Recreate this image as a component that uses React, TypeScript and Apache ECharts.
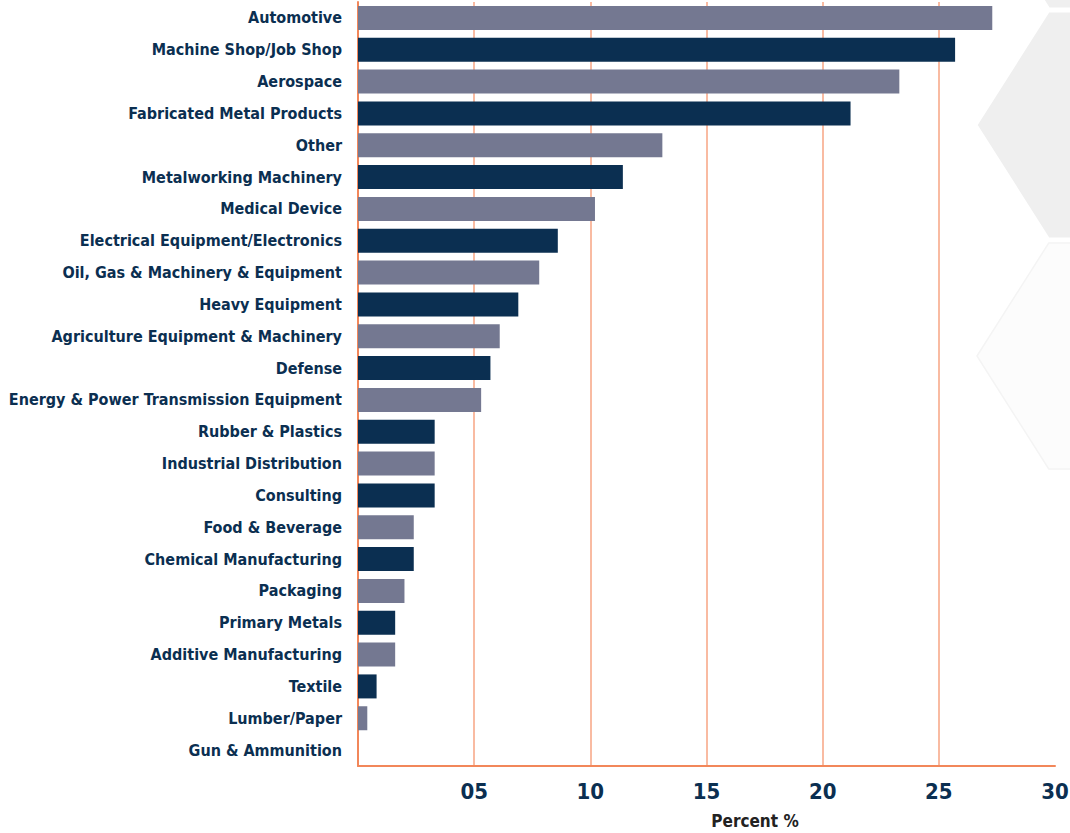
import React, { useEffect, useRef } from "react";
import * as echarts from "echarts";

const categories = [
  "Automotive",
  "Machine Shop/Job Shop",
  "Aerospace",
  "Fabricated Metal Products",
  "Other",
  "Metalworking Machinery",
  "Medical Device",
  "Electrical Equipment/Electronics",
  "Oil, Gas & Machinery & Equipment",
  "Heavy Equipment",
  "Agriculture Equipment & Machinery",
  "Defense",
  "Energy & Power Transmission Equipment",
  "Rubber & Plastics",
  "Industrial Distribution",
  "Consulting",
  "Food & Beverage",
  "Chemical Manufacturing",
  "Packaging",
  "Primary Metals",
  "Additive Manufacturing",
  "Textile",
  "Lumber/Paper",
  "Gun & Ammunition",
];

const values = [
  27.3, 25.7, 23.3, 21.2, 13.1, 11.4, 10.2, 8.6, 7.8, 6.9, 6.1, 5.7, 5.3, 3.3,
  3.3, 3.3, 2.4, 2.4, 2.0, 1.6, 1.6, 0.8, 0.4, 0,
];

const xTicks = [0, 5, 10, 15, 20, 25, 30];
const xTickLabels = ["", "05", "10", "15", "20", "25", "30"];
const xAxisTitle = "Percent %";

const GRAY = "#747891";
const NAVY = "#0b2f51";
const ORANGE = "#f2875a";
const FONT = "'DejaVu Sans Condensed', 'Liberation Sans Narrow', sans-serif";

export default function App() {
  const ref = useRef<HTMLDivElement>(null);

  useEffect(() => {
    if (!ref.current) return;
    const chart = echarts.init(ref.current, undefined, { renderer: "svg" });

    const hex = (lx: number, cy: number, h: number) => {
      const half = h / 2;
      const dx = (half / Math.sqrt(3)) * 1.1;
      const w = h * 1.15;
      return [
        [lx, cy],
        [lx + dx, cy - half],
        [lx + dx + w, cy - half],
        [lx + 2 * dx + w, cy],
        [lx + dx + w, cy + half],
        [lx + dx, cy + half],
      ];
    };

    chart.setOption({
      animation: false,
      backgroundColor: "#ffffff",
      graphic: [
        {
          type: "polygon",
          z: -10,
          silent: true,
          shape: { points: hex(976, 125, 228) },
          style: { fill: "#efefef", stroke: "#ffffff", lineWidth: 3 },
        },
        {
          type: "polygon",
          z: -10,
          silent: true,
          shape: { points: hex(977, 356, 226) },
          style: { fill: "#fcfcfc", stroke: "#f4f4f4", lineWidth: 1.5 },
        },
        {
          type: "polygon",
          z: -10,
          silent: true,
          shape: { points: hex(977, -104, 226) },
          style: { fill: "#efefef", stroke: "#ffffff", lineWidth: 3 },
        },
        {
          type: "text",
          x: 755,
          y: 821,
          style: {
            text: xAxisTitle,
            fill: "#222222",
            font: `bold 17px ${FONT}`,
            align: "center",
            verticalAlign: "middle",
          },
        },
      ],
      grid: {
        left: 358,
        right: 15,
        top: 2,
        bottom: 67,
        containLabel: false,
        outerBoundsMode: "none",
      },
      xAxis: {
        type: "value",
        min: xTicks[0],
        max: xTicks[xTicks.length - 1],
        interval: 5,
        axisLine: { show: true, lineStyle: { color: ORANGE, width: 2 } },
        axisTick: { show: false },
        splitLine: {
          show: true,
          showMinLine: false,
          showMaxLine: false,
          lineStyle: { color: "#f7a583", width: 1.5 },
        },
        axisLabel: {
          margin: 14,
          color: NAVY,
          fontFamily: FONT,
          fontWeight: "bold",
          fontSize: 22,
          formatter: (v: number) => {
            const i = xTicks.indexOf(v);
            return i >= 0 ? xTickLabels[i] : "";
          },
        },
      },
      yAxis: {
        type: "category",
        inverse: true,
        data: categories,
        axisLine: { show: true, lineStyle: { color: ORANGE, width: 2 } },
        axisTick: { show: false },
        axisLabel: {
          margin: 16,
          color: NAVY,
          fontFamily: FONT,
          fontWeight: "bold",
          fontSize: 16,
        },
      },
      series: [
        {
          type: "bar",
          data: values,
          barWidth: 24,
          itemStyle: {
            color: (p: any) => (p.dataIndex % 2 === 0 ? GRAY : NAVY),
          },
        },
      ],
    });

    return () => chart.dispose();
  }, []);

  return (
    <div
      ref={ref}
      style={{ position: "fixed", left: 0, top: 0, width: 1070, height: 833 }}
    />
  );
}
